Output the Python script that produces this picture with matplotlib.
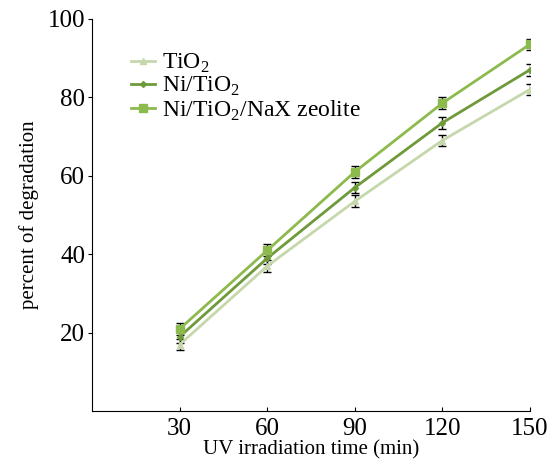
import numpy as np
import matplotlib
matplotlib.use("Agg")
import matplotlib.pyplot as plt

plt.rcParams['font.family'] = ['Liberation Serif', 'DejaVu Serif']
plt.rcParams['mathtext.fontset'] = 'custom'
plt.rcParams['mathtext.rm'] = 'Liberation Serif'

# data
time = [30, 60, 90, 120, 150]
tio2 = [17, 37, 53.5, 69, 82]
ni_tio2 = [19, 39, 57, 73.5, 87]
ni_tio2_nax = [21, 41, 61, 78.5, 93.5]
err_tio2 = [1.5, 1.5, 1.5, 1.5, 1.5]
err_ni = [1.5, 1.5, 1.5, 1.5, 1.5]
err_nax = [1.5, 1.5, 1.5, 1.5, 1.5]

fig = plt.figure(figsize=(5.49, 4.61), dpi=100)
ax = fig.add_axes([0.168, 0.108, 0.797, 0.851])

ax.errorbar(time, tio2, yerr=err_tio2, color="#c5d7ab", marker="^", markersize=5,
            lw=2, ecolor="black", elinewidth=1, capsize=3, label="TiO$_2$")
ax.errorbar(time, ni_tio2, yerr=err_ni, color="#6e9a3a", marker="D", markersize=3,
            lw=2, ecolor="black", elinewidth=1, capsize=3, label="Ni/TiO$_2$")
ax.errorbar(time, ni_tio2_nax, yerr=err_nax, color="#8dba4c", marker="s", markersize=6,
            lw=2, ecolor="black", elinewidth=1, capsize=3, label="Ni/TiO$_2$/NaX zeolite")

ax.set_xlim(0, 150)
ax.set_ylim(0, 100)
ax.set_xticks(time)
ax.set_yticks([20, 40, 60, 80, 100])
ax.spines['top'].set_visible(False)
ax.spines['right'].set_visible(False)
ax.tick_params(axis='x', direction='in', length=3, labelsize=18, pad=5)
ax.tick_params(axis='y', direction='out', length=3, labelsize=18, pad=2)
ax.set_xlabel("UV irradiation time (min)", fontsize=15, labelpad=0)
ax.set_ylabel("percent of degradation", fontsize=15, labelpad=6)

handles, labels = ax.get_legend_handles_labels()
handles = [h[0] for h in handles]
ax.legend(handles, labels, loc="upper left", bbox_to_anchor=(0.04, 0.97), frameon=False,
          fontsize=17, handlelength=1.0, handletextpad=0.3, labelspacing=0.0)

fig.savefig("out.png", dpi=100)
